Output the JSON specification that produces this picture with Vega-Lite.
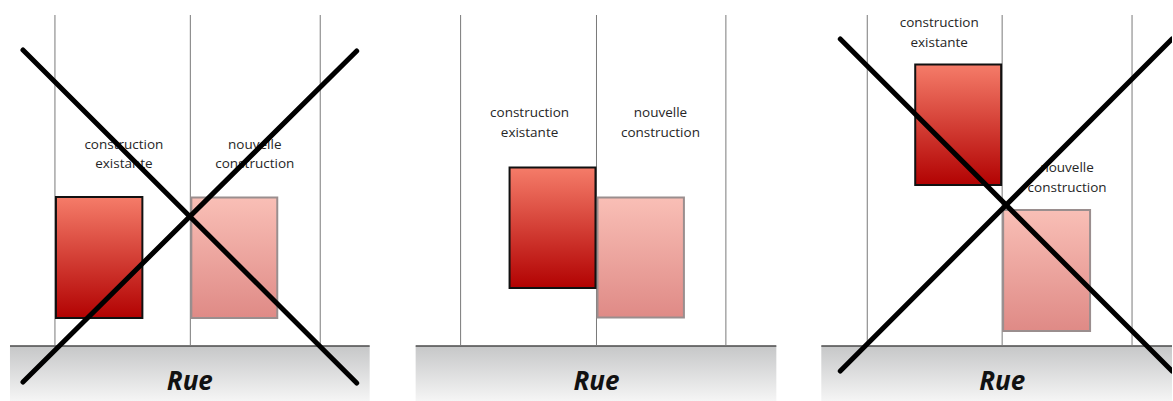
{
  "$schema": "https://vega.github.io/schema/vega-lite/v6.json",
  "width": 1173,
  "height": 401,
  "autosize": {"type": "fit", "contains": "padding"},
  "padding": 0,
  "background": "white",
  "config": {"view": {"stroke": null}},
  "datasets": {
    "street": [
      {"x": 10, "x2": 370, "y": 346, "y2": 401},
      {"x": 416, "x2": 777, "y": 346, "y2": 401},
      {"x": 822, "x2": 1173, "y": 346, "y2": 401}
    ],
    "walls": [
      {"x": 55, "y": 15, "y2": 346}, {"x": 190.5, "y": 15, "y2": 346}, {"x": 320.5, "y": 15, "y2": 346},
      {"x": 461, "y": 15, "y2": 346}, {"x": 597, "y": 15, "y2": 346}, {"x": 726.5, "y": 15, "y2": 346},
      {"x": 868, "y": 15, "y2": 346}, {"x": 1003, "y": 15, "y2": 346}, {"x": 1133, "y": 15, "y2": 346}
    ],
    "existing": [
      {"x": 56, "x2": 142.5, "y": 197, "y2": 318},
      {"x": 510, "x2": 596, "y": 167.5, "y2": 288},
      {"x": 916, "x2": 1002, "y": 64.5, "y2": 185}
    ],
    "newb": [
      {"x": 191.5, "x2": 277.5, "y": 197.5, "y2": 318},
      {"x": 598, "x2": 684.5, "y": 197.5, "y2": 317.5},
      {"x": 1004, "x2": 1091, "y": 210, "y2": 331}
    ],
    "labels": [
      {"x": 124, "y": 145, "t": "construction"}, {"x": 124, "y": 164, "t": "existante"},
      {"x": 255, "y": 145, "t": "nouvelle"}, {"x": 255, "y": 164, "t": "construction"},
      {"x": 530, "y": 113, "t": "construction"}, {"x": 530, "y": 133, "t": "existante"},
      {"x": 661, "y": 113, "t": "nouvelle"}, {"x": 661, "y": 133, "t": "construction"},
      {"x": 940, "y": 23, "t": "construction"}, {"x": 940, "y": 43, "t": "existante"},
      {"x": 1068, "y": 168, "t": "nouvelle"}, {"x": 1068, "y": 188, "t": "construction"}
    ],
    "rue": [
      {"x": 190, "y": 390, "t": "Rue"},
      {"x": 597, "y": 390, "t": "Rue"},
      {"x": 1003, "y": 390, "t": "Rue"}
    ],
    "cross": [
      {"id": "a1", "x": 23, "y": 50}, {"id": "a1", "x": 357, "y": 383},
      {"id": "a2", "x": 23, "y": 382}, {"id": "a2", "x": 357, "y": 51},
      {"id": "b1", "x": 841, "y": 39}, {"id": "b1", "x": 1173, "y": 371},
      {"id": "b2", "x": 841, "y": 371}, {"id": "b2", "x": 1173, "y": 39}
    ]
  },
  "layer": [
    {
      "data": {"name": "street"},
      "mark": {"type": "rect", "fill": {"gradient": "linear", "x1": 0, "y1": 0, "x2": 0, "y2": 1, "stops": [{"offset": 0, "color": "#c6c7c8"}, {"offset": 1, "color": "#f5f5f5"}]}},
      "encoding": {
        "x": {"field": "x", "type": "quantitative", "scale": {"domain": [0, 1173], "nice": false, "zero": false}, "axis": null},
        "x2": {"field": "x2"},
        "y": {"field": "y", "type": "quantitative", "scale": {"domain": [0, 401], "nice": false, "zero": false, "reverse": true}, "axis": null},
        "y2": {"field": "y2"}
      }
    },
    {
      "data": {"name": "street"},
      "mark": {"type": "rule", "color": "#4a4a4a", "strokeWidth": 1.5},
      "encoding": {
        "x": {"field": "x", "type": "quantitative"},
        "x2": {"field": "x2"},
        "y": {"field": "y", "type": "quantitative"}
      }
    },
    {
      "data": {"name": "walls"},
      "mark": {"type": "rule", "color": "#7a7a7a", "strokeWidth": 1},
      "encoding": {
        "x": {"field": "x", "type": "quantitative"},
        "y": {"field": "y", "type": "quantitative"},
        "y2": {"field": "y2"}
      }
    },
    {
      "data": {"name": "newb"},
      "mark": {"type": "rect", "stroke": "#9a8e8e", "strokeWidth": 2, "fill": {"gradient": "linear", "x1": 0, "y1": 0, "x2": 0, "y2": 1, "stops": [{"offset": 0, "color": "#f9bfb6"}, {"offset": 1, "color": "#df8a86"}]}},
      "encoding": {
        "x": {"field": "x", "type": "quantitative"},
        "x2": {"field": "x2"},
        "y": {"field": "y", "type": "quantitative"},
        "y2": {"field": "y2"}
      }
    },
    {
      "data": {"name": "existing"},
      "mark": {"type": "rect", "stroke": "#111111", "strokeWidth": 2, "fill": {"gradient": "linear", "x1": 0, "y1": 0, "x2": 0, "y2": 1, "stops": [{"offset": 0, "color": "#f57c69"}, {"offset": 1, "color": "#b20202"}]}},
      "encoding": {
        "x": {"field": "x", "type": "quantitative"},
        "x2": {"field": "x2"},
        "y": {"field": "y", "type": "quantitative"},
        "y2": {"field": "y2"}
      }
    },
    {
      "data": {"name": "labels"},
      "mark": {"type": "text", "font": "Open Sans", "fontSize": 13.5, "color": "#262626", "align": "center", "baseline": "middle"},
      "encoding": {
        "x": {"field": "x", "type": "quantitative"},
        "y": {"field": "y", "type": "quantitative"},
        "text": {"field": "t"}
      }
    },
    {
      "data": {"name": "rue"},
      "mark": {"type": "text", "font": "Open Sans", "fontSize": 26, "fontWeight": "bold", "fontStyle": "italic", "color": "#111111", "align": "center", "baseline": "alphabetic"},
      "encoding": {
        "x": {"field": "x", "type": "quantitative"},
        "y": {"field": "y", "type": "quantitative"},
        "text": {"field": "t"}
      }
    },
    {
      "data": {"name": "cross"},
      "mark": {"type": "line", "color": "#000000", "strokeWidth": 5, "strokeCap": "round", "clip": true},
      "encoding": {
        "x": {"field": "x", "type": "quantitative"},
        "y": {"field": "y", "type": "quantitative"},
        "detail": {"field": "id"}
      }
    }
  ]
}
